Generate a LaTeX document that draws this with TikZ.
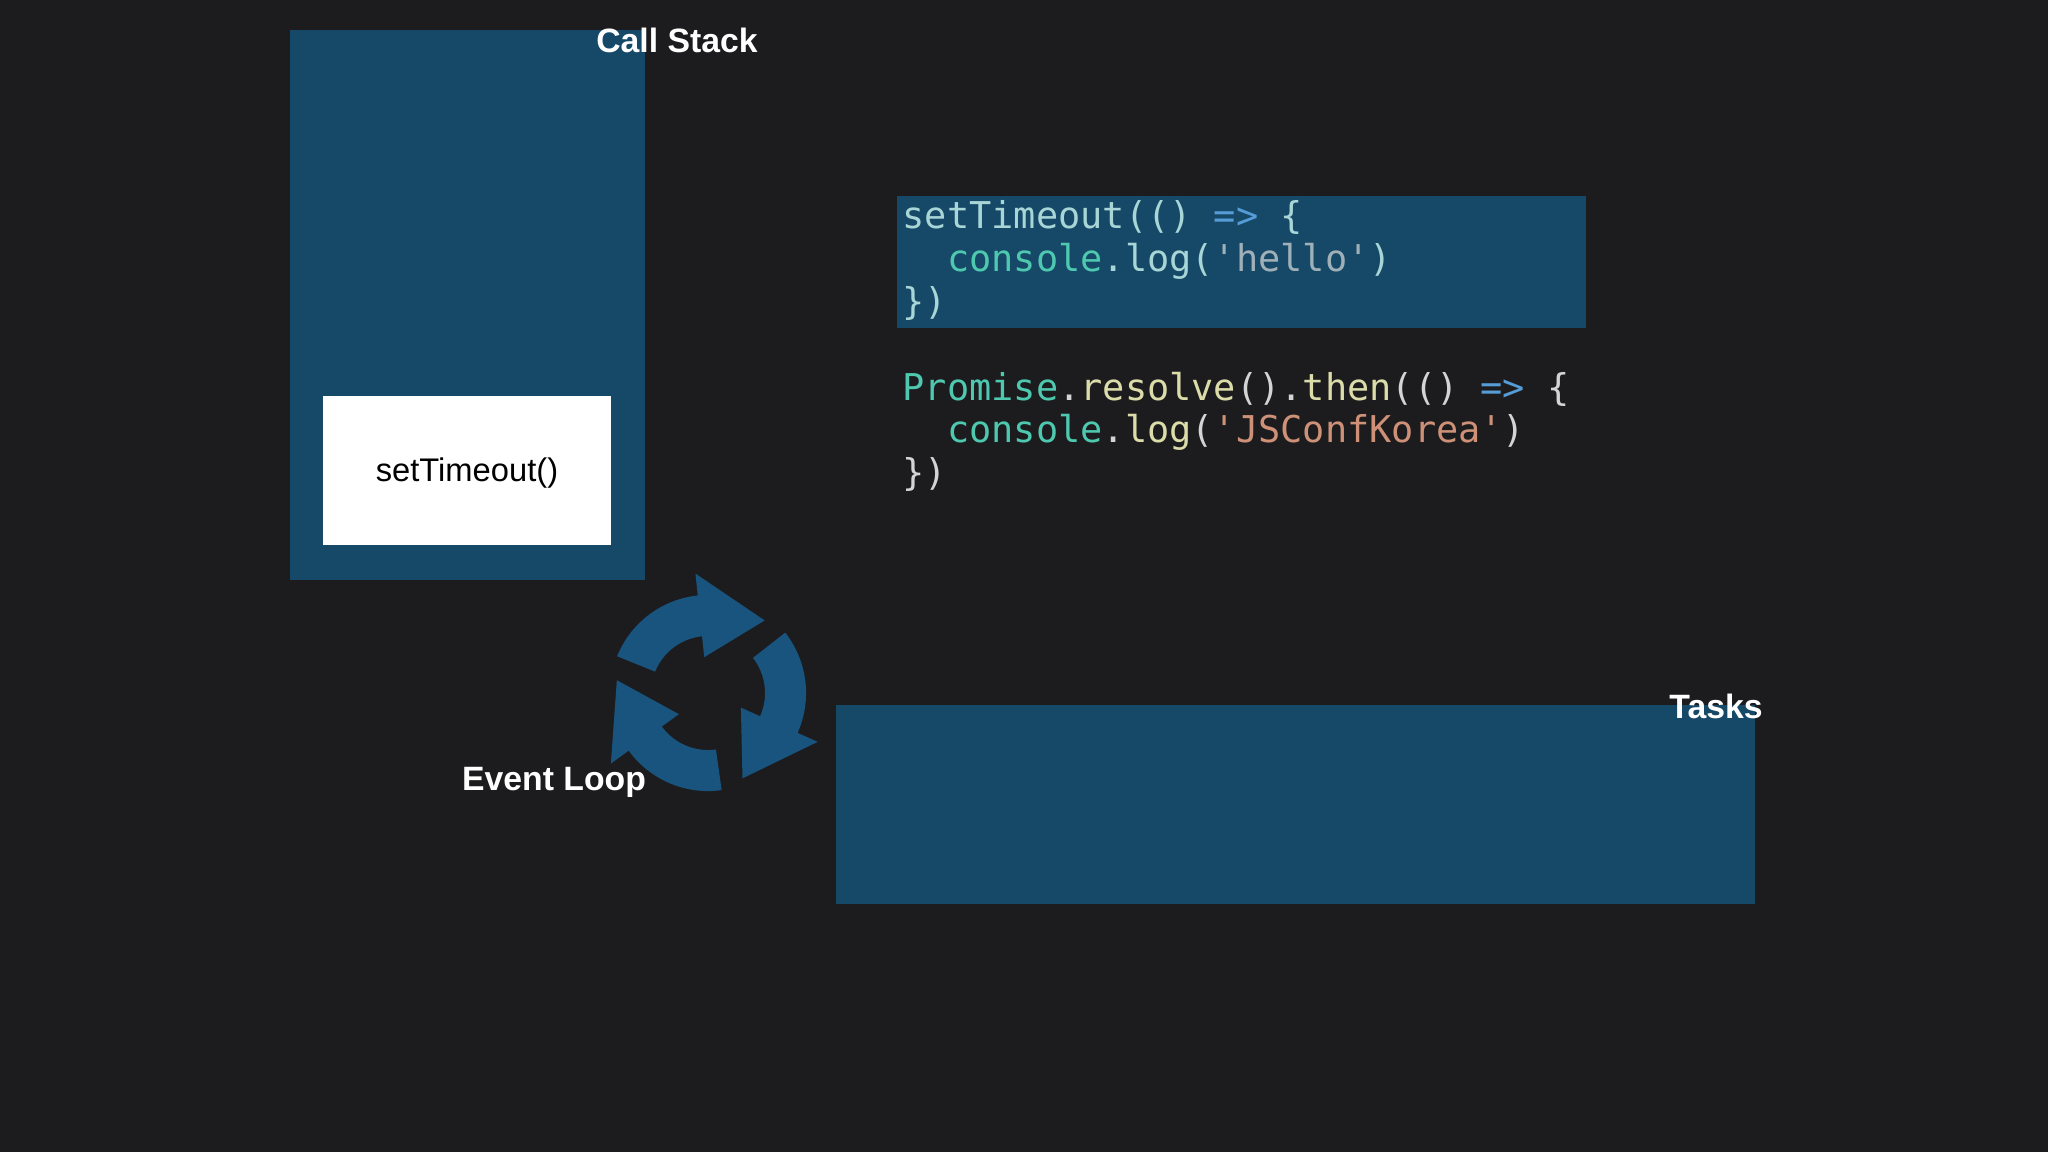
\documentclass[tikz,border=0pt]{standalone}
\usepackage{fontspec}
\setmainfont{Liberation Sans}
\setmonofont{DejaVu Sans Mono}
\usetikzlibrary{positioning}
\definecolor{bg}{RGB}{28,28,30}
\definecolor{panel}{RGB}{22,72,104}
\definecolor{loopblue}{RGB}{24,84,126}
\definecolor{cplain}{RGB}{212,212,212}
\definecolor{cfunc}{RGB}{220,220,170}
\definecolor{ctype}{RGB}{78,201,176}
\definecolor{carrow}{RGB}{86,156,214}
\definecolor{cstr}{RGB}{206,145,120}
\definecolor{hlplain}{RGB}{168,214,214}
\definecolor{hlstr}{RGB}{160,176,184}
\begin{document}
\begin{tikzpicture}[
    x=0.01cm, y=-0.01cm,
    panelbox/.style={fill=panel, draw=none},
    title/.style={text=white, font=\fontsize{9.6}{11}\selectfont\bfseries, inner sep=0pt},
    codeline/.style={anchor=west, inner sep=0pt, font=\fontsize{10.5}{12}\ttfamily},
    loopseg/.style={fill=loopblue, draw=none}
  ]
  % background
  \fill[bg] (0,0) rectangle (2048,1152);

  % Call stack
  \fill[panelbox] (290,30) rectangle (645,580);
  \node[title] (stacklbl) at (677,40) {Call Stack};
  \fill[white] (323,396) rectangle (611,545);
  \node[inner sep=0pt, font=\fontsize{9.3}{11}\selectfont] (frame1) at (467,473) {setTimeout()};

  % Code
  \fill[panelbox] (897,196) rectangle (1586,328);
  \node[codeline, text=hlplain] (l1) at (902,217) {setTimeout(() \textcolor{carrow}{=>} \{};
  \node[codeline, text=hlplain] (l2) at (902,261) {\ \ \textcolor{ctype}{console}.log(\textcolor{hlstr}{'hello'})};
  \node[codeline, text=hlplain] (l3) at (902,303) {\})};
  \node[codeline, text=cplain] (l4) at (902,389) {\textcolor{ctype}{Promise}.\textcolor{cfunc}{resolve}().\textcolor{cfunc}{then}(() \textcolor{carrow}{=>} \{};
  \node[codeline, text=cplain] (l5) at (902,432) {\ \ \textcolor{ctype}{console}.\textcolor{cfunc}{log}(\textcolor{cstr}{'JSConfKorea'})};
  \node[codeline, text=cplain] (l6) at (902,474) {\})};

  % Tasks
  \fill[panelbox] (836,705) rectangle (1755,904);
  \node[title] (tasklbl) at (1716,706) {Tasks};

  % Event loop
  \begin{scope}[shift={(708,693)}]
    \foreach \s in {158,38,-82} {
      \fill[loopseg] (\s:0.98cm) arc[start angle=\s, end angle=\s-62, radius=0.98cm]
        -- (\s-62:1.2cm) -- (\s-106:0.92cm) -- (\s-62:0.36cm)
        -- (\s-62:0.57cm) arc[start angle=\s-62, end angle=\s, radius=0.57cm] -- cycle;
    }
  \end{scope}
  \node[title] (looplbl) at (554,782) {Event Loop};
\end{tikzpicture}
\end{document}
